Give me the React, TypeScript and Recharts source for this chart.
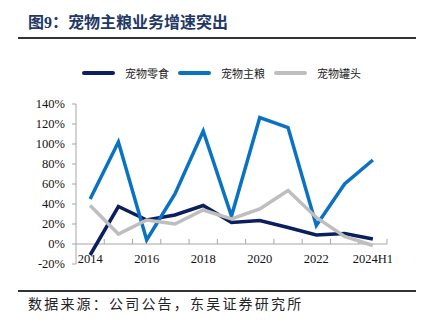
import React from 'react';
import { LineChart, Line, XAxis, YAxis, ReferenceLine } from 'recharts';

const years = ['2014', '2015', '2016', '2017', '2018', '2019', '2020', '2021', '2022', '2023', '2024H1'];
const labeledYears = ['2014', '2016', '2018', '2020', '2022', '2024H1'];
// 增速 (%)
const snack = [-11, 37.5, 24, 29, 38.5, 21.5, 23.5, 16.5, 9, 10.5, 5];
const mainFood = [45, 102, 4, 50, 113, 28, 126.5, 116.5, 18.5, 60, 84];
const canned = [38.5, 10, 24, 20, 34, 25, 35, 53.5, 26.5, 7.5, -1.5];
const yTicks = [-20, 0, 20, 40, 60, 80, 100, 120, 140];

const series = [
  { key: 'snack', name: '宠物零食', color: '#0B1F5E' },
  { key: 'mainFood', name: '宠物主粮', color: '#0A72C2' },
  { key: 'canned', name: '宠物罐头', color: '#BEBEBE' },
];

const data = years.map((year, i) => ({
  i,
  year,
  snack: snack[i],
  mainFood: mainFood[i],
  canned: canned[i],
}));

const serif = "'Times New Roman', 'Liberation Serif', 'Noto Sans CJK SC', serif";
const cjk = "'Liberation Serif', 'Noto Sans CJK SC', sans-serif";
const axisColor = '#A6A6A6';

// category boundaries, where the small tick marks sit
const boundaries = years.map((_, i) => i + 0.5);

const XTick = ({ x, y, payload }: any) => (
  <text x={x} y={y} dy={-1} textAnchor="middle" fontSize={12.5} fill="#111" fontFamily={serif}>
    {years[payload.value]}
  </text>
);

const App: React.FC = () => {
  return (
    <div style={{ position: 'absolute', left: 0, top: 0, width: 421, height: 327, background: '#fff' }}>
      <div style={{ position: 'absolute', left: 28, top: 13, fontSize: 16, fontWeight: 'bold', color: '#1F3864', fontFamily: cjk, lineHeight: '20px', whiteSpace: 'nowrap' }}>
        图9：宠物主粮业务增速突出
      </div>
      <div style={{ position: 'absolute', left: 18, top: 37, width: 398, height: 1.5, background: '#333' }} />

      <div style={{ position: 'absolute', left: 82, top: 65, display: 'flex', alignItems: 'center', fontFamily: cjk, fontSize: 11, color: '#222', whiteSpace: 'nowrap' }}>
        {series.map((s) => (
          <div key={s.key} style={{ display: 'flex', alignItems: 'center', marginRight: 9 }}>
            <div style={{ width: 33, height: 4, borderRadius: 2, background: s.color, marginRight: 10 }} />
            <span>{s.name}</span>
          </div>
        ))}
      </div>

      <div style={{ position: 'absolute', left: 0, top: 0 }}>
        <LineChart width={421} height={327} data={data} margin={{ top: 104, right: 34, bottom: 43, left: 0 }}>
          <XAxis
            type="number"
            dataKey="i"
            domain={[-0.5, years.length - 0.5]}
            ticks={labeledYears.map((y) => years.indexOf(y))}
            tick={<XTick />}
            tickLine={false}
            axisLine={false}
            tickSize={0}
            tickMargin={0}
            height={20}
            interval={0}
          />
          <YAxis
            domain={[-20, 140]}
            ticks={yTicks}
            tickFormatter={(v) => `${v}%`}
            width={76}
            tickSize={4}
            tickMargin={7}
            axisLine={{ stroke: axisColor }}
            tickLine={{ stroke: axisColor }}
            tick={{ fontSize: 12.5, fill: '#111', fontFamily: serif }}
            interval={0}
          />
          <ReferenceLine y={0} stroke={axisColor} />
          {boundaries.map((b) => (
            <ReferenceLine key={b} segment={[{ x: b, y: 0 }, { x: b, y: 5 }]} stroke={axisColor} />
          ))}
          {series.map((s) => (
            <Line
              key={s.key}
              type="linear"
              dataKey={s.key}
              name={s.name}
              stroke={s.color}
              strokeWidth={3.5}
              dot={false}
              isAnimationActive={false}
            />
          ))}
        </LineChart>
      </div>

      <div style={{ position: 'absolute', left: 18, top: 290, width: 398, height: 1.5, background: '#333' }} />
      <div style={{ position: 'absolute', left: 28, top: 296, fontSize: 14, letterSpacing: 2.2, color: '#222', fontFamily: cjk, lineHeight: '18px', whiteSpace: 'nowrap' }}>
        数据来源：公司公告，东吴证券研究所
      </div>
    </div>
  );
};

export default App;
